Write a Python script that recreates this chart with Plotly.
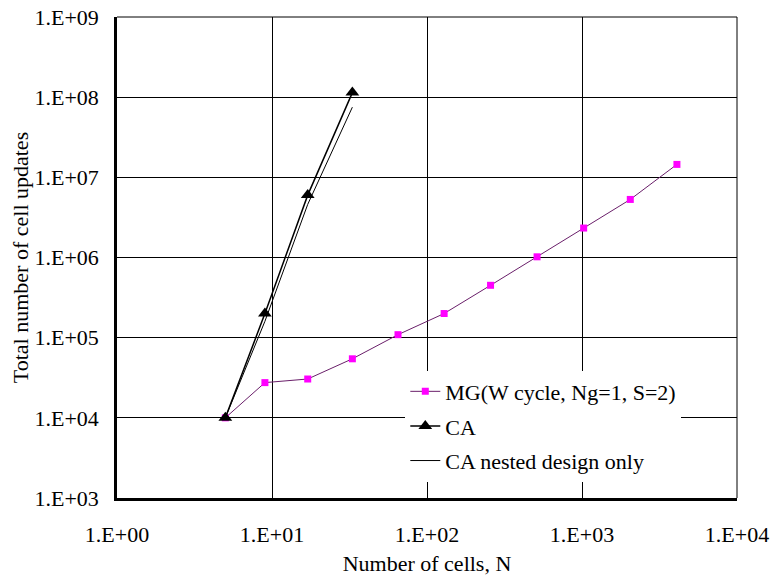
import plotly.graph_objects as go

# Data
mg_n = [5, 9, 17, 33, 65, 129, 257, 513, 1025, 2049, 4097]
mg_updates = [1.0e4, 2.75e4, 3.05e4, 5.45e4, 1.09e5, 2.0e5, 4.5e5, 1.02e6, 2.33e6, 5.3e6, 1.45e7]

ca_n = [5, 9, 17, 33]
ca_updates = [1.0e4, 2.0e5, 6.0e6, 1.14e8]

nested_n = [5, 9, 17, 33]
nested_updates = [1.0e4, 1.6e5, 4.6e6, 7.5e7]

x_tickvals = [1, 10, 100, 1000, 10000]
x_ticktext = ["1.E+00", "1.E+01", "1.E+02", "1.E+03", "1.E+04"]
y_tickvals = [1e3, 1e4, 1e5, 1e6, 1e7, 1e8, 1e9]
y_ticktext = ["1.E+03", "1.E+04", "1.E+05", "1.E+06", "1.E+07", "1.E+08", "1.E+09"]

FONT = "Liberation Serif"
FS = 22

fig = go.Figure()
fig.add_trace(go.Scatter(
    x=mg_n, y=mg_updates, mode="lines+markers",
    name="MG(W cycle, Ng=1, S=2)", legendgroup="a",
    line=dict(color="#6a1f6a", width=1),
    marker=dict(symbol="square", size=7, color="#ff00ff"),
))
fig.add_trace(go.Scatter(
    x=ca_n, y=ca_updates, mode="lines+markers",
    name="CA", legendgroup="b",
    line=dict(color="black", width=1.5),
    marker=dict(symbol="triangle-up", size=12, color="black"),
))
fig.add_trace(go.Scatter(
    x=nested_n, y=nested_updates, mode="lines",
    name="CA nested design only", legendgroup="c",
    line=dict(color="black", width=1),
))

fig.update_layout(
    width=771, height=576,
    margin=dict(l=117, r=34, t=17, b=78, autoexpand=False),
    paper_bgcolor="white", plot_bgcolor="white",
    font=dict(family=FONT, size=FS, color="black"),
    showlegend=True,
    legend=dict(
        x=0.465, y=0.265, xanchor="left", yanchor="top",
        bgcolor="white", borderwidth=0,
        font=dict(family=FONT, size=FS, color="black"),
        tracegroupgap=3, traceorder="grouped",
    ),
)
fig.update_xaxes(
    type="log", range=[0, 4], automargin=False,
    tickvals=x_tickvals, ticktext=x_ticktext,
    showgrid=True, gridcolor="black", gridwidth=1,
    showline=True, linecolor="black", linewidth=2.5,
    ticks="", ticklabelstandoff=15,
    title=dict(text="Number of cells, N", standoff=13,
               font=dict(family=FONT, size=FS)),
    tickfont=dict(family=FONT, size=FS),
    zeroline=False,
)
fig.update_yaxes(
    type="log", range=[3, 9], automargin=False,
    tickvals=y_tickvals, ticktext=y_ticktext,
    showgrid=True, gridcolor="black", gridwidth=1,
    showline=True, linecolor="black", linewidth=2.5,
    ticks="", ticklabelstandoff=11,
    title=dict(text="Total number of cell updates", standoff=0,
               font=dict(family=FONT, size=FS)),
    tickfont=dict(family=FONT, size=FS),
    zeroline=False,
)
# top and right frame lines
fig.add_shape(type="line", xref="paper", yref="paper", x0=0, x1=1, y0=1, y1=1,
              line=dict(color="black", width=1))
fig.add_shape(type="line", xref="paper", yref="paper", x0=1, x1=1, y0=0, y1=1,
              line=dict(color="black", width=1))

fig.write_html("out.html")
